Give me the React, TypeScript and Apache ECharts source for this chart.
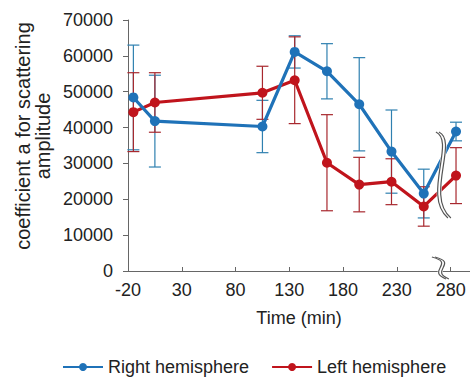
import React, { useEffect, useRef } from "react";
import * as echarts from "echarts";

const xValues = [-15, 5, 105, 135, 165, 195, 225, 255, 285];
const rightMean = [48400, 41800, 40300, 61100, 55700, 46500, 33300, 21600, 38900];
const rightErr = [14600, 12800, 7300, 4500, 7700, 13000, 11600, 6800, 2600];
const leftMean = [44300, 47000, 49700, 53200, 30200, 24100, 24900, 18000, 26600];
const leftErr = [11000, 8300, 7400, 12100, 13400, 7600, 6400, 5500, 7800];
const xTicks = [-20, 30, 80, 130, 180, 230, 280];
const breakX = 270;

const BLUE = "#1f72b8";
const RED = "#c0141c";
const FONT = "'Liberation Sans', Arial, sans-serif";

function errRender(color: string) {
  return (params: any, api: any) => {
    const x = api.value(0);
    const lo = api.coord([x, api.value(1)]);
    const hi = api.coord([x, api.value(2)]);
    const w = 6;
    const style = { stroke: color, lineWidth: 1.2 };
    return {
      type: "group",
      children: [
        { type: "line", shape: { x1: lo[0], y1: lo[1], x2: hi[0], y2: hi[1] }, style },
        { type: "line", shape: { x1: hi[0] - w, y1: hi[1], x2: hi[0] + w, y2: hi[1] }, style },
        { type: "line", shape: { x1: lo[0] - w, y1: lo[1], x2: lo[0] + w, y2: lo[1] }, style },
      ],
    };
  };
}

export default function App() {
  const ref = useRef<HTMLDivElement>(null);
  useEffect(() => {
    const chart = echarts.init(ref.current!, undefined, { renderer: "svg" });
    const rightData = xValues.map((x, i) => [x, rightMean[i]]);
    const leftData = xValues.map((x, i) => [x, leftMean[i]]);
    const rightErrData = xValues.map((x, i) => [x, rightMean[i] - rightErr[i], rightMean[i] + rightErr[i]]);
    const leftErrData = xValues.map((x, i) => [x, leftMean[i] - leftErr[i], leftMean[i] + leftErr[i]]);
    chart.setOption({
      animation: false,
      backgroundColor: "#fff",
      textStyle: { fontFamily: FONT },
      grid: { left: 128, right: 0, top: 20, bottom: 107, outerBoundsMode: "none", containLabel: false },
      legend: {
        data: ["Right hemisphere", "Left hemisphere"],
        left: 62,
        top: 357,
        padding: 0,
        itemWidth: 40,
        itemHeight: 10,
        itemGap: 22,
        textStyle: { fontSize: 18, lineHeight: 20, color: "#222", fontFamily: FONT },
      },
      xAxis: {
        type: "value",
        min: -20,
        max: 298,
        name: "Time (min)",
        nameLocation: "middle",
        nameGap: 38,
        nameTextStyle: { fontSize: 18, color: "#222", fontFamily: FONT },
        splitLine: { show: false },
        axisLine: { onZero: false, lineStyle: { color: "#666", width: 1 } },
        axisTick: { inside: true, length: 4, lineStyle: { color: "#666" }, customValues: xTicks },
        axisLabel: { fontSize: 18, color: "#222", margin: 10, customValues: xTicks, fontFamily: FONT },
      },
      yAxis: {
        type: "value",
        min: 0,
        max: 70000,
        interval: 10000,
        splitLine: { show: false },
        axisLine: { show: true, onZero: false, lineStyle: { color: "#666", width: 1 } },
        axisTick: { show: true, length: 5, lineStyle: { color: "#666" } },
        axisLabel: { fontSize: 18, color: "#222", margin: 15, fontFamily: FONT, formatter: (v: number) => String(v) },
      },
      series: [
        {
          name: "Right err",
          type: "custom",
          renderItem: errRender("#2f80b0"),
          data: rightErrData,
          encode: { x: 0, y: [1, 2] },
          z: 1,
        },
        {
          name: "Left err",
          type: "custom",
          renderItem: errRender("#a8282e"),
          data: leftErrData,
          encode: { x: 0, y: [1, 2] },
          z: 1,
        },
        {
          name: "Right hemisphere",
          type: "line",
          data: rightData,
          color: BLUE,
          symbol: "circle",
          symbolSize: 10,
          lineStyle: { width: 3.2, color: BLUE },
          itemStyle: { color: BLUE },
          z: 3,
        },
        {
          name: "Left hemisphere",
          type: "line",
          data: leftData,
          color: RED,
          symbol: "circle",
          symbolSize: 10,
          lineStyle: { width: 3.2, color: RED },
          itemStyle: { color: RED },
          z: 2,
        },
      ],
    });

    const p = chart.convertToPixel({ gridIndex: 0 }, [breakX, 0]) as number[];
    const bx = p[0];
    const y0 = p[1];
    const curve = (dx: number, dy: number, s: any, lw: number, color: string, z: number) => ({
      type: "bezierCurve",
      z,
      shape: {
        x1: bx + s[0] + dx, y1: y0 + s[1] + dy,
        cpx1: bx + s[2] + dx, cpy1: y0 + s[3] + dy,
        cpx2: bx + s[4] + dx, cpy2: y0 + s[5] + dy,
        x2: bx + s[6] + dx, y2: y0 + s[7] + dy,
      },
      style: { stroke: color, lineWidth: lw, fill: null },
    });
    const big = [-4, -139, 16, -130, -18, -75, 8, -53];
    const small = [-8, -14, 16, -8, -14, 0, 6, 8];
    chart.setOption({
      graphic: [
        curve(1.5, 0, big, 5, "#fff", 100),
        curve(0, 0, big, 1.2, "#555", 101),
        curve(3, 0, big, 1.2, "#555", 101),
        curve(1.5, 0, small, 5, "#fff", 100),
        curve(0, 0, small, 1.2, "#555", 101),
        curve(3, 0, small, 1.2, "#555", 101),
        {
          type: "text",
          z: 100,
          x: 33,
          y: 136,
          rotation: Math.PI / 2,
          style: {
            text: "coefficient a for scattering\namplitude",
            fontSize: 20,
            lineHeight: 20,
            fontFamily: FONT,
            fill: "#222",
            align: "center",
            verticalAlign: "middle",
          },
        },
      ],
    });
    return () => chart.dispose();
  }, []);
  return <div ref={ref} style={{ width: 470, height: 378, position: "absolute", left: 0, top: 0 }} />;
}
